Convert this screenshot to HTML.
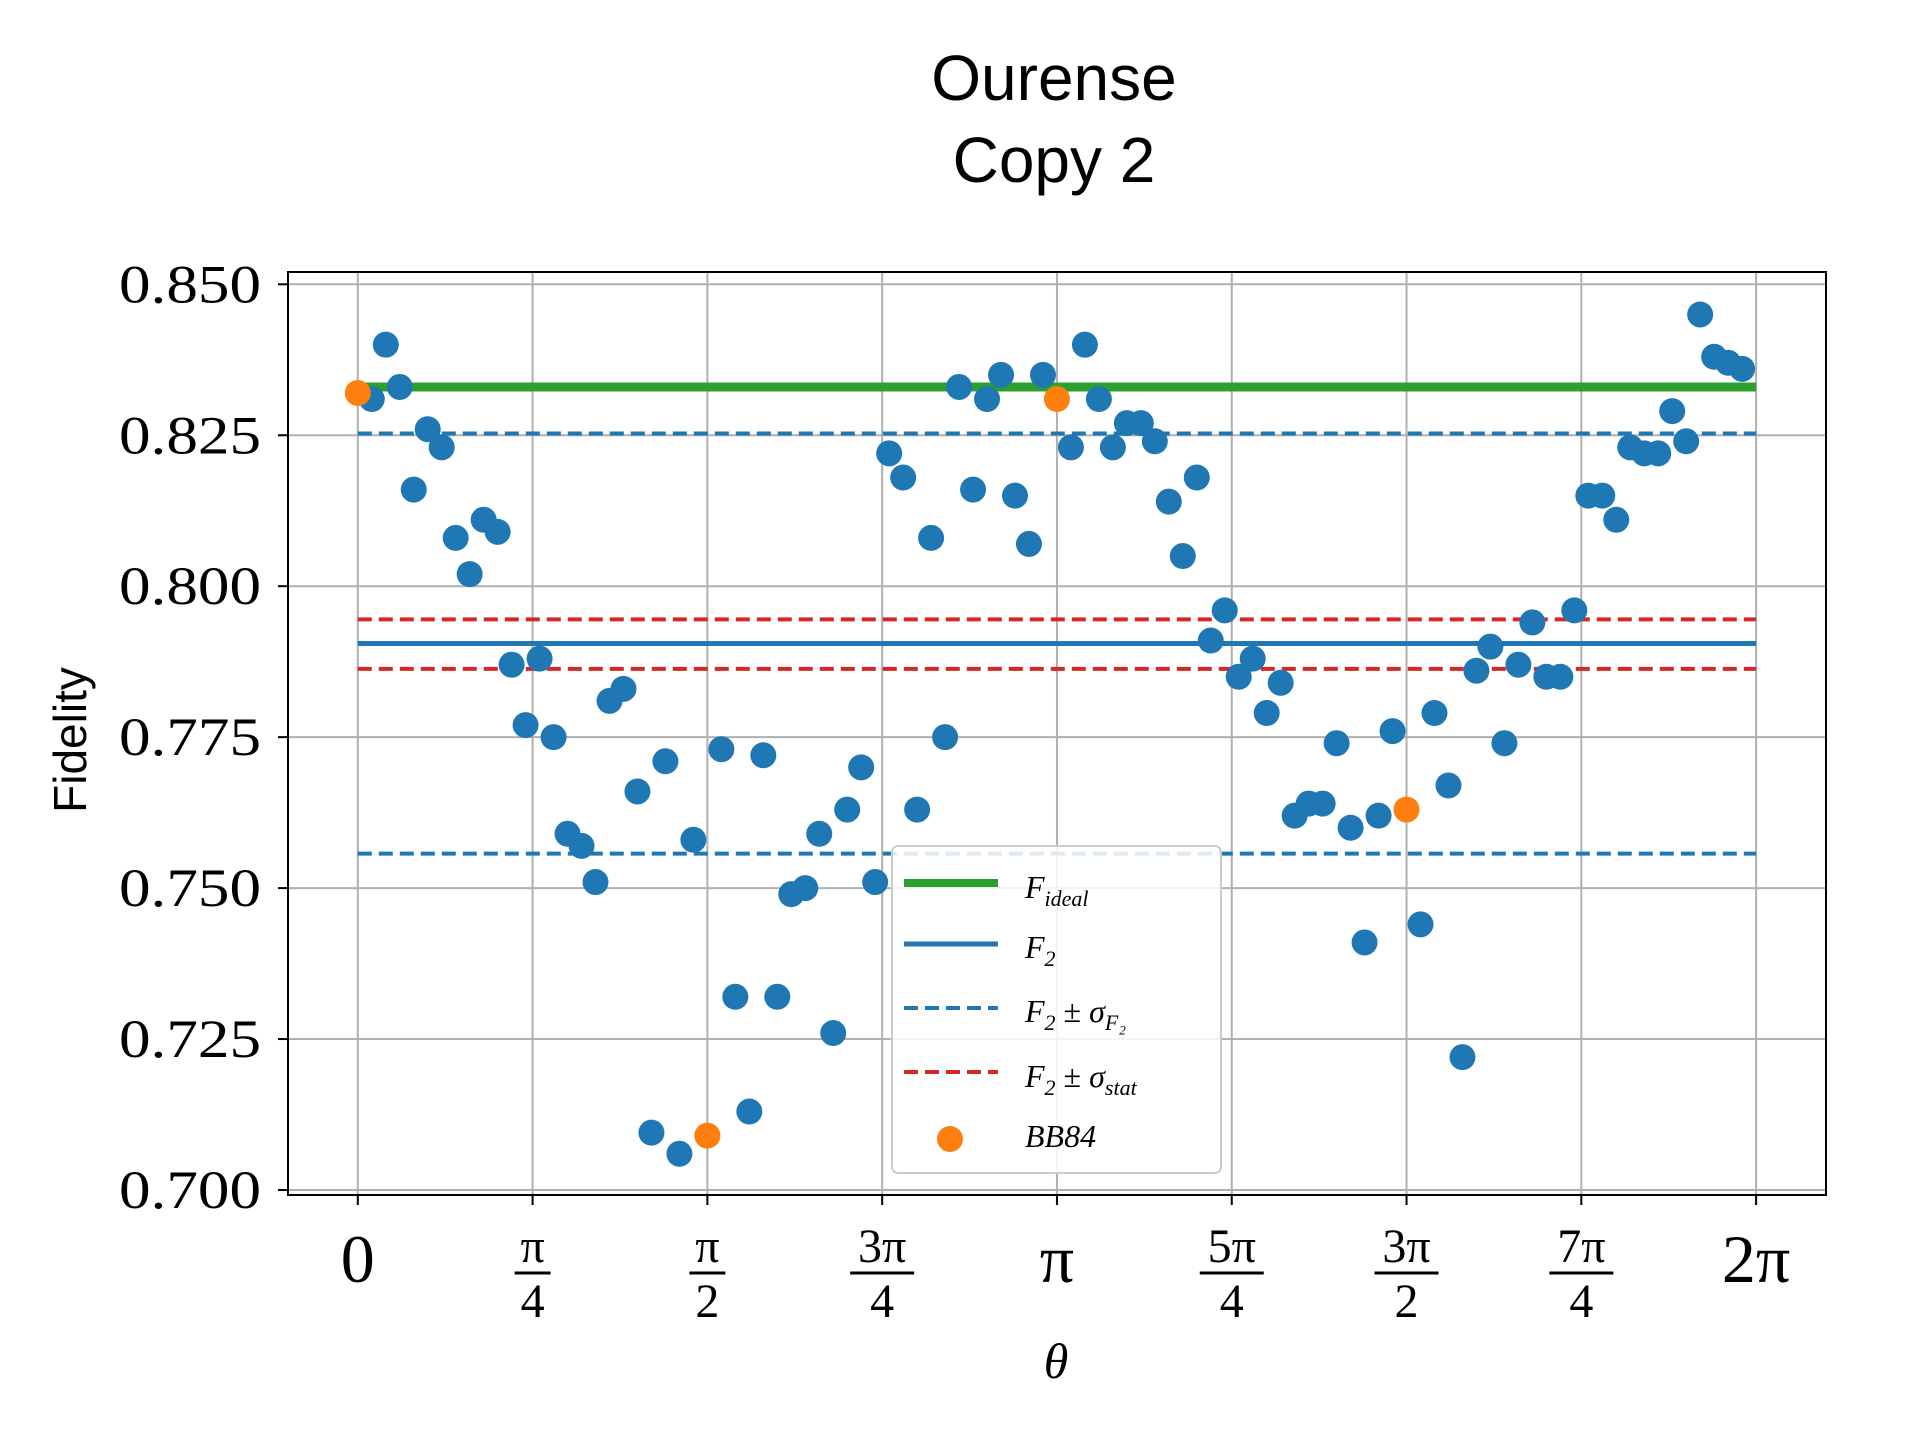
<!DOCTYPE html>
<html><head><meta charset="utf-8"><style>
html,body{margin:0;padding:0;background:#fff}
svg{display:block}
</style></head><body>
<svg id="chart" xmlns="http://www.w3.org/2000/svg" width="1920" height="1440" viewBox="0 0 1920 1440">
<text x="1054" y="100" text-anchor="middle" font-family="Liberation Sans, sans-serif" font-size="64">Ourense</text>
<text x="1054" y="182" text-anchor="middle" font-family="Liberation Sans, sans-serif" font-size="64">Copy 2</text>
<g id="grid"></g>
<g id="lines"></g>
<g id="points"></g>
<rect x="288" y="272" width="1538" height="923" fill="none" stroke="#000" stroke-width="2"/>
<g id="yticks"></g>
<g id="xticks"></g>
<text transform="translate(86,740) rotate(-90)" text-anchor="middle" font-family="Liberation Sans, sans-serif" font-size="46">Fidelity</text>
<text x="1056" y="1378" text-anchor="middle" font-family="Liberation Serif, serif" font-style="italic" font-size="50">θ</text>
<g>
<rect x="892" y="846" width="329" height="327" rx="6" fill="#fff" fill-opacity="0.85" stroke="#ccc" stroke-width="2"/>
<line x1="904" y1="883" x2="998" y2="883" stroke="#2ca02c" stroke-width="8"/>
<text x="1025" y="898" font-family="Liberation Serif, serif" font-style="italic" font-size="32">F<tspan font-size="22" dy="8">ideal</tspan></text>
<line x1="904" y1="944" x2="998" y2="944" stroke="#1f77b4" stroke-width="5"/>
<text x="1025" y="958" font-family="Liberation Serif, serif" font-style="italic" font-size="32">F<tspan font-size="22" dy="8">2</tspan></text>
<line x1="904" y1="1008" x2="998" y2="1008" stroke="#1f77b4" stroke-width="4" stroke-dasharray="14,7"/>
<text x="1025" y="1022" font-family="Liberation Serif, serif" font-style="italic" font-size="32">F<tspan font-size="22" dy="8">2</tspan><tspan dy="-8" font-style="normal"> ± </tspan>σ<tspan font-size="22" dy="8">F₂</tspan></text>
<line x1="904" y1="1072" x2="998" y2="1072" stroke="#d62728" stroke-width="4" stroke-dasharray="14,7"/>
<text x="1025" y="1087" font-family="Liberation Serif, serif" font-style="italic" font-size="32">F<tspan font-size="22" dy="8">2</tspan><tspan dy="-8" font-style="normal"> ± </tspan>σ<tspan font-size="22" dy="8">stat</tspan></text>
<circle cx="950" cy="1139" r="13" fill="#ff7f0e"/>
<text x="1025" y="1147" font-family="Liberation Serif, serif" font-style="italic" font-size="32">BB84</text>
</g>
</svg>
<script>
const fidelity=[0.832,0.831,0.840,0.833,0.816,0.826,0.823,0.808,0.802,0.811,0.809,0.787,0.777,0.788,0.775,0.759,0.757,0.751,0.781,0.783,0.766,0.7095,0.771,0.706,0.758,0.709,0.773,0.732,0.713,0.772,0.732,0.749,0.750,0.759,0.726,0.763,0.770,0.751,0.822,0.818,0.763,0.808,0.775,0.833,0.816,0.831,0.835,0.815,0.807,0.835,0.831,0.823,0.840,0.831,0.823,0.827,0.827,0.824,0.814,0.805,0.818,0.791,0.796,0.785,0.788,0.779,0.784,0.762,0.764,0.764,0.774,0.760,0.741,0.762,0.776,0.763,0.744,0.779,0.767,0.722,0.786,0.790,0.774,0.787,0.794,0.785,0.785,0.796,0.815,0.815,0.811,0.823,0.822,0.822,0.829,0.824,0.845,0.838,0.837,0.836];
const bb84Indices=[0,25,50,75];
const fIdeal=0.833;
const f2=0.7905;
const sigmaF2=[0.8253,0.7557];
const sigmaStat=[0.7945,0.7863];
const yTicks=[0.700,0.725,0.750,0.775,0.800,0.825,0.850];
const yTickLabels=["0.700","0.725","0.750","0.775","0.800","0.825","0.850"];
const xTickNum=[0,1,2,3,4,5,6,7,8];
const xTickLabels=[["0",""],["π","4"],["π","2"],["3π","4"],["π",""],["5π","4"],["3π","2"],["7π","4"],["2π",""]];

const NS="http://www.w3.org/2000/svg";
const X0=357.8,X1=1756.1,Y0=1190,Y1=284.3;
const L=288,R=1826,T=272,B=1195;
const xs=t=>X0+(X1-X0)*t/(2*Math.PI);
const ys=v=>Y0+(Y1-Y0)*(v-0.700)/0.150;
function mk(tag,attrs,parent){const e=document.createElementNS(NS,tag);for(const k in attrs)e.setAttribute(k,attrs[k]);parent.appendChild(e);return e;}
const grid=document.getElementById('grid'),lines=document.getElementById('lines'),pts=document.getElementById('points'),yt=document.getElementById('yticks'),xt=document.getElementById('xticks');
yTicks.forEach((v,i)=>{const y=ys(v);
 const g=mk('line',{x1:L,x2:R,y1:y,y2:y,stroke:'#b0b0b0','stroke-width':2},grid);
 
 
 mk('line',{x1:L-10,x2:L,y1:y,y2:y,stroke:'#000','stroke-width':2},yt);
 const t=mk('text',{x:119,y:y+18,'text-anchor':'start','font-family':'Liberation Serif, serif','font-size':54,textLength:142,lengthAdjust:'spacingAndGlyphs'},yt);
 
 
 t.textContent=yTickLabels[i];});
xTickNum.forEach((n,i)=>{const x=xs(n*Math.PI/4);
 const g=mk('line',{x1:x,x2:x,y1:T,y2:B,stroke:'#b0b0b0','stroke-width':2},grid);
 
 
 mk('line',{x1:x,x2:x,y1:B,y2:B+10,stroke:'#000','stroke-width':2},xt);
 const [num,den]=xTickLabels[i];
 if(den===""){const t=mk('text',{x:x,y:1282,'text-anchor':'middle','font-family':'Liberation Serif, serif','font-size':68},xt);
  
  
  t.textContent=num;}
 else{const t=mk('text',{x:x,y:1262,'text-anchor':'middle','font-family':'Liberation Serif, serif','font-size':48},xt);
  
  
  t.textContent=num;
  mk('line',{x1:x-(num.length>1?32:18),x2:x+(num.length>1?32:18),y1:1273,y2:1273,stroke:'#000','stroke-width':3},xt);
  const d=mk('text',{x:x,y:1317,'text-anchor':'middle','font-family':'Liberation Serif, serif','font-size':48},xt);
  
  
  d.textContent=den;}});
function hline(v,color,w,dash,name){const a={x1:X0,x2:X1,y1:ys(v),y2:ys(v),stroke:color,'stroke-width':w};if(dash)a['stroke-dasharray']=dash;const l=mk('line',a,lines);
 
 }
sigmaF2.forEach(v=>hline(v,'#1f77b4',4,'14,7','sigma-f2-line'));
sigmaStat.forEach(v=>hline(v,'#d62728',4,'14,7','sigma-stat-line'));
hline(f2,'#1f77b4',5,null,'f2-line');
hline(fIdeal,'#2ca02c',9,null,'f-ideal-line');
const N=fidelity.length;
fidelity.forEach((v,i)=>{if(bb84Indices.includes(i))return;const c=mk('circle',{cx:xs(2*Math.PI*i/N),cy:ys(v),r:13,fill:'#1f77b4'},pts);
 
 });
bb84Indices.forEach(i=>{const c=mk('circle',{cx:xs(2*Math.PI*i/N),cy:ys(fidelity[i]),r:13,fill:'#ff7f0e'},pts);
 
 });
</script>
</body></html>
